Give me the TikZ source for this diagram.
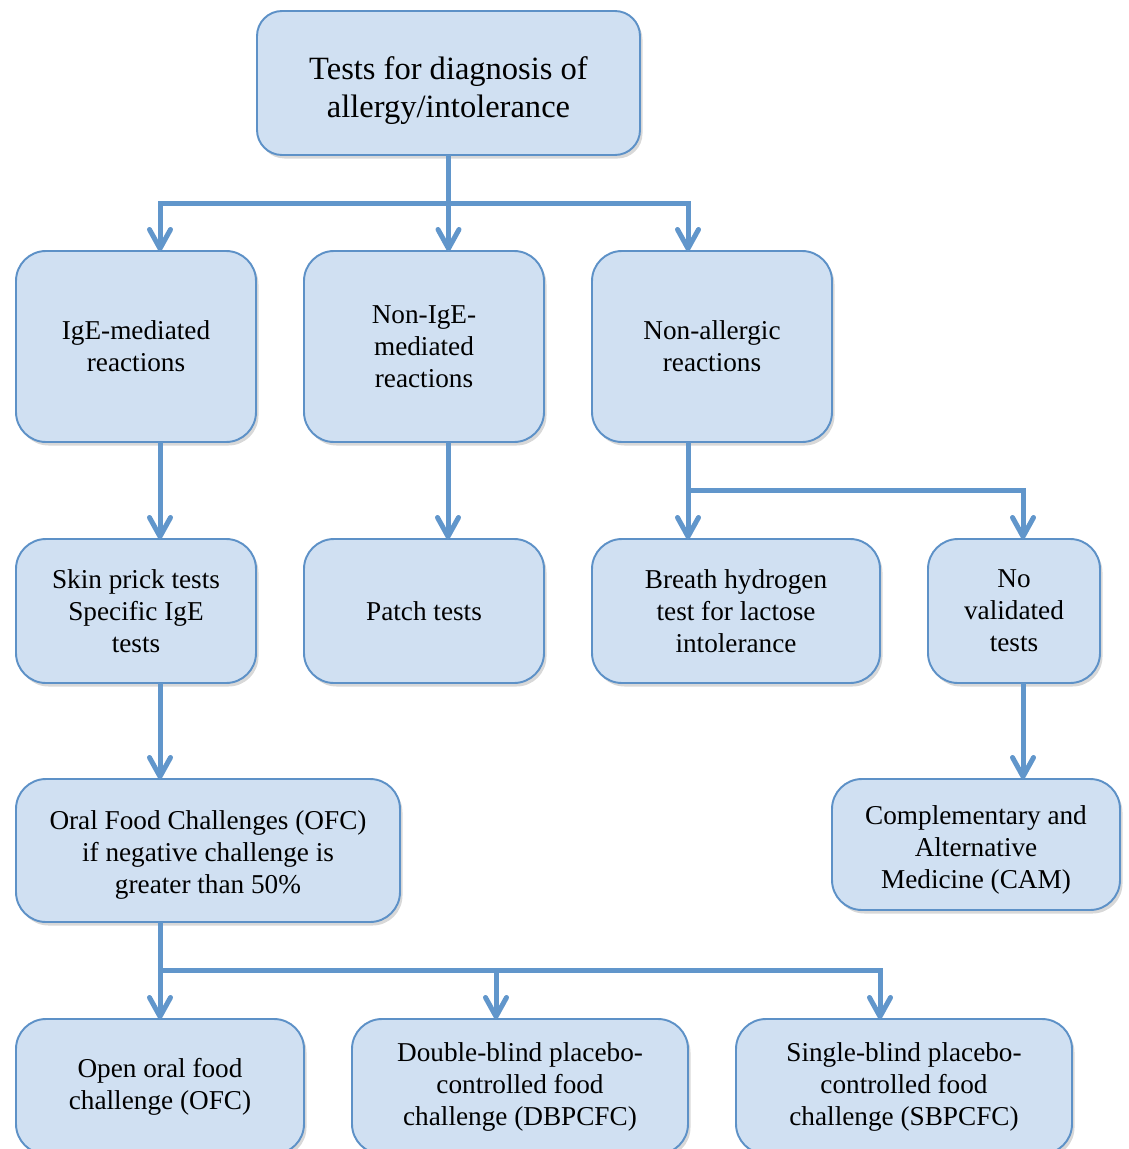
\documentclass[tikz,border=0pt]{standalone}
\usepackage{fontspec}
\setmainfont{Liberation Serif}
\usepackage{tikz}
\usetikzlibrary{positioning,calc,arrows.meta,shadows}
\definecolor{boxfill}{RGB}{208,224,242}
\definecolor{boxline}{RGB}{93,145,199}
\definecolor{linkblue}{RGB}{97,150,203}
\def\BoxGap{0.96cm}
\def\RowGap{1.94cm}
\def\SplitDrop{0.96}
\tikzset{
	box/.style={draw=boxline,line width=1.1pt,fill=boxfill,rounded corners=0.6cm,align=center,
		inner sep=2pt,outer sep=0pt,font=\fontsize{15.5}{18.2}\selectfont,
		drop shadow={shadow xshift=0.05cm,shadow yshift=-0.07cm,opacity=0.22,fill=black!70}},
	rowone/.style={box,minimum width=4.8cm,minimum height=3.82cm},
	rowtwo/.style={box,minimum height=2.88cm},
	link/.style={draw=linkblue,line width=0.1cm},
	arrow/.style={link,-{Straight Barb[length=0.38cm,width=0.42cm,round]}}
}
\begin{document}
\begin{tikzpicture}
			\useasboundingbox (0,0) rectangle (22.58,-22.98);
			% 
			\node[box,minimum width=7.66cm,minimum height=2.88cm,rounded corners=0.5cm,
				font=\fontsize{18.5}{21.6}\selectfont] (tests) at (8.97,-1.66)
				{\rule{0pt}{0.75cm}Tests for diagnosis of\\allergy/intolerance};
			% 
			\node[rowone,anchor=north west] (ige) at (0.32,-5.02) {IgE-mediated\\reactions};
			\node[rowone,right=\BoxGap of ige] (nonige) {Non-IgE-\\mediated\\reactions};
			\node[rowone,right=\BoxGap of nonige] (nonall) {Non-allergic\\reactions};
			% 
			\node[rowtwo,minimum width=4.8cm,below=\RowGap of ige] (skin) {Skin prick tests\\Specific IgE\\tests};
			\node[rowtwo,minimum width=4.8cm,right=\BoxGap of skin] (patch) {Patch tests};
			\node[rowtwo,minimum width=5.76cm,right=\BoxGap of patch] (breath) {Breath hydrogen\\test for lactose\\intolerance};
			\node[rowtwo,minimum width=3.44cm,right=\BoxGap of breath] (noval) {No\\validated\\tests};
			% 
			\node[box,minimum width=7.68cm,minimum height=2.86cm,below=1.92cm of skin.south west,anchor=north west] (ofc)
				{\rule{0pt}{0.55cm}Oral Food Challenges (OFC)\\if negative challenge is\\greater than 50\%};
			\node[box,minimum width=5.76cm,minimum height=2.62cm,below=1.92cm of noval,xshift=-0.76cm] (cam)
				{\rule{0pt}{0.58cm}Complementary and\\Alternative\\Medicine (CAM)};
			% 
			\node[box,minimum width=5.76cm,minimum height=2.7cm,below=\RowGap of ofc.south west,anchor=north west] (open)
				{Open oral food\\challenge (OFC)};
			\node[box,minimum width=6.72cm,minimum height=2.7cm,right=\BoxGap of open] (dbpc)
				{Double-blind placebo-\\controlled food\\challenge (DBPCFC)};
			\node[box,minimum width=6.72cm,minimum height=2.7cm,right=\BoxGap of dbpc] (sbpc)
				{Single-blind placebo-\\controlled food\\challenge (SBPCFC)};
			% 
			\draw[link] (tests.south) -- ++(0,-\SplitDrop) coordinate (split1);
			\draw[arrow] (split1) -| ([xshift=2.88cm]ige.north west);
			\draw[arrow] (split1) -- (split1 |- nonige.north);
			\draw[arrow] (split1) -| ([xshift=1.92cm]nonall.north west);
			% 
			\draw[arrow] ([xshift=2.88cm]ige.south west) -- ([xshift=2.88cm]skin.north west);
			\draw[arrow] ([xshift=2.88cm]nonige.south west) -- ([xshift=2.88cm]patch.north west);
			\draw[link] ([xshift=1.92cm]nonall.south west) -- ++(0,-\SplitDrop) coordinate (split2);
			\draw[arrow] (split2) -- (split2 |- breath.north);
			\draw[arrow] (split2) -| ([xshift=1.9cm]noval.north west);
			% 
			\draw[arrow] ([xshift=2.88cm]skin.south west) -- ([xshift=2.88cm]ofc.north west);
			\draw[arrow] ([xshift=1.9cm]noval.south west) coordinate (n1) -- (n1 |- cam.north);
			% 
			\draw[link] ([xshift=2.88cm]ofc.south west) -- ++(0,-\SplitDrop) coordinate (split3);
			\draw[arrow] (split3) -- (split3 |- open.north);
			\draw[arrow] (split3) -| ([xshift=2.88cm]dbpc.north west);
			\draw[arrow] (split3) -| ([xshift=2.88cm]sbpc.north west);
\end{tikzpicture}
\end{document}
